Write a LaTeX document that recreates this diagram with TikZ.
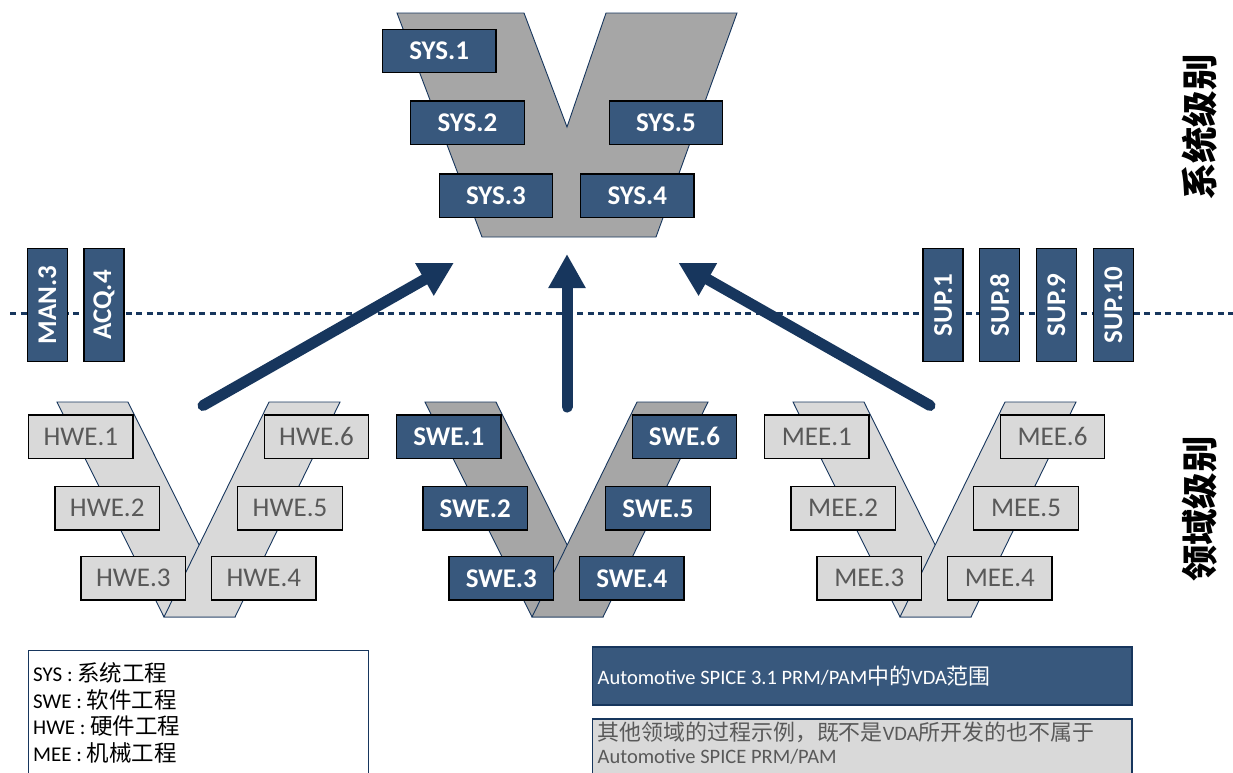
\documentclass[tikz,border=0pt]{standalone}
\usepackage{fontspec}
\setmainfont{Carlito}
\newfontfamily\cjk[Scale=1.07]{Noto Sans CJK SC}
\usetikzlibrary{arrows.meta}
\definecolor{navy}{RGB}{23,54,93}
\definecolor{boxblue}{RGB}{56,88,125}
\definecolor{vgray}{RGB}{166,166,166}
\definecolor{lgray}{RGB}{217,217,217}
\definecolor{tgray}{RGB}{89,89,89}
\begin{document}
\begin{tikzpicture}[x=1pt,y=-1pt,
  basebox/.style={draw=black, line width=1.3pt, inner sep=0pt, font=\fontsize{27}{32}\selectfont},
  sysbox/.style={basebox, fill=boxblue, text=white, font=\fontsize{27}{32}\selectfont\bfseries, minimum width=113.5pt, minimum height=43.3pt},
  dbox/.style={basebox, fill=boxblue, text=white, font=\fontsize{27}{32}\selectfont\bfseries, minimum width=104.5pt, minimum height=43.3pt},
  gbox/.style={basebox, fill=lgray, text=tgray, minimum width=104.5pt, minimum height=43.3pt},
  vbox/.style={basebox, fill=boxblue, text=white, font=\fontsize{27}{32}\selectfont\bfseries, minimum width=113pt, minimum height=40pt, rotate=90},
  vshape/.style={draw=navy, line width=0.9pt},
  bigarrow/.style={navy, line width=11pt, line cap=round, -{Triangle[length=34pt,width=35pt]}},
  sidelabel/.style={font=\cjk\fontsize{34}{38}\selectfont\bfseries, rotate=90, inner sep=0pt},
  legtext/.style={anchor=west, inner sep=0pt, font=\fontsize{21}{24}\selectfont},
]
\useasboundingbox (0,0) rectangle (1233,772);
\clip (0,0) rectangle (1233,772);

% dotted separator
\coordinate (dl) at (10,313);
\coordinate (dr) at (1233,313);
\draw[navy, line width=3pt, dash pattern=on 6pt off 4.5pt] (dl) -- (dr);

% vertical boxes
\node[vbox] (man3) at (47.3,305) {MAN.3};
\node[vbox] (acq4) at (104,305) {ACQ.4};
\node[vbox] (sup1) at (943,305) {SUP.1};
\node[vbox] (sup8) at (999.7,305) {SUP.8};
\node[vbox] (sup9) at (1056.3,305) {SUP.9};
\node[vbox] (sup10) at (1113.3,305) {SUP.10};

% system V
\filldraw[vshape, fill=vgray] (397,13) -- (524,13) -- (567,127) -- (606,13) -- (737,13) -- (656,237) -- (482,237) -- cycle;
\node[sysbox] (sys1) at (439.2,51) {SYS.1};
\node[sysbox] (sys2) at (467.5,122.7) {SYS.2};
\node[sysbox] (sys5) at (666,122.7) {SYS.5};
\node[sysbox] (sys3) at (496,195.7) {SYS.3};
\node[sysbox] (sys4) at (637.3,195.7) {SYS.4};

% HWE V
\filldraw[vshape, fill=lgray] (57,402) -- (128,402) -- (235,617) -- (164,617) -- cycle;
\filldraw[vshape, fill=lgray] (269,402) -- (340,402) -- (235,617) -- (164,617) -- cycle;
\node[gbox] (hwe1) at (80.8,436.7) {HWE.1};
\node[gbox] (hwe6) at (316.5,436.7) {HWE.6};
\node[gbox] (hwe2) at (107.2,508.3) {HWE.2};
\node[gbox] (hwe5) at (290,508.3) {HWE.5};
\node[gbox] (hwe3) at (133.3,578.3) {HWE.3};
\node[gbox] (hwe4) at (263.8,578.3) {HWE.4};

% SWE V
\begin{scope}[xshift=368pt]
\filldraw[vshape, fill=vgray] (57,402) -- (128,402) -- (235,617) -- (164,617) -- cycle;
\filldraw[vshape, fill=vgray] (269,402) -- (340,402) -- (235,617) -- (164,617) -- cycle;
\end{scope}
\node[dbox] (swe1) at (448.8,436.7) {SWE.1};
\node[dbox] (swe6) at (684.5,436.7) {SWE.6};
\node[dbox] (swe2) at (475.2,508.3) {SWE.2};
\node[dbox] (swe5) at (658,508.3) {SWE.5};
\node[dbox] (swe3) at (501.3,578.3) {SWE.3};
\node[dbox] (swe4) at (631.8,578.3) {SWE.4};

% MEE V
\begin{scope}[xshift=736pt]
\filldraw[vshape, fill=lgray] (57,402) -- (128,402) -- (235,617) -- (164,617) -- cycle;
\filldraw[vshape, fill=lgray] (269,402) -- (340,402) -- (235,617) -- (164,617) -- cycle;
\end{scope}
\node[gbox] (mee1) at (816.8,436.7) {MEE.1};
\node[gbox] (mee6) at (1052.5,436.7) {MEE.6};
\node[gbox] (mee2) at (843.2,508.3) {MEE.2};
\node[gbox] (mee5) at (1026,508.3) {MEE.5};
\node[gbox] (mee3) at (869.3,578.3) {MEE.3};
\node[gbox] (mee4) at (999.8,578.3) {MEE.4};

% arrows
\coordinate (a1s) at (203,405.5);
\coordinate (a1e) at (454,262.7);
\coordinate (a2s) at (567,407);
\coordinate (a2e) at (567,254);
\coordinate (a3s) at (930,405.5);
\coordinate (a3e) at (678.3,262.7);
\draw[bigarrow] (a1s) -- (a1e);
\draw[bigarrow] (a2s) -- (a2e);
\draw[bigarrow] (a3s) -- (a3e);

% side labels
\node[sidelabel] (lvlsys) at (1200,127) {系统级别};
\node[sidelabel] (lvldom) at (1200,509) {领域级别};

% legend box
\draw[navy, line width=1.2pt, fill=white] (28.3,650.7) rectangle (368.3,790);
\node[legtext] (lg1) at (33,673) {SYS : {\cjk 系统工程}};
\node[legtext] (lg2) at (33,699.5) {SWE : {\cjk 软件工程}};
\node[legtext] (lg3) at (33,726) {HWE : {\cjk 硬件工程}};
\node[legtext] (lg4) at (33,752.5) {MEE : {\cjk 机械工程}};

% scope boxes
\draw[navy, line width=1.2pt, fill=boxblue] (592.7,647) rectangle (1132,705);
\node[anchor=west, inner sep=0pt, text=white, font=\fontsize{20.5}{24}\selectfont] (vdascope) at (597.5,676) {Automotive SPICE 3.1 PRM/PAM{\cjk 中的}VDA{\cjk 范围}};
\draw[navy, line width=1.2pt, fill=lgray] (592.7,719) rectangle (1132,790);
\node[anchor=west, inner sep=0pt, text=tgray, font=\fontsize{20.5}{24}\selectfont] (oth1) at (597.5,732) {{\cjk 其他领域的过程示例，既不是}VDA{\cjk 所开发的也不属于}};
\node[anchor=west, inner sep=0pt, text=tgray, font=\fontsize{20.5}{24}\selectfont] (oth2) at (597.5,757) {Automotive SPICE PRM/PAM};
\end{tikzpicture}
\end{document}
